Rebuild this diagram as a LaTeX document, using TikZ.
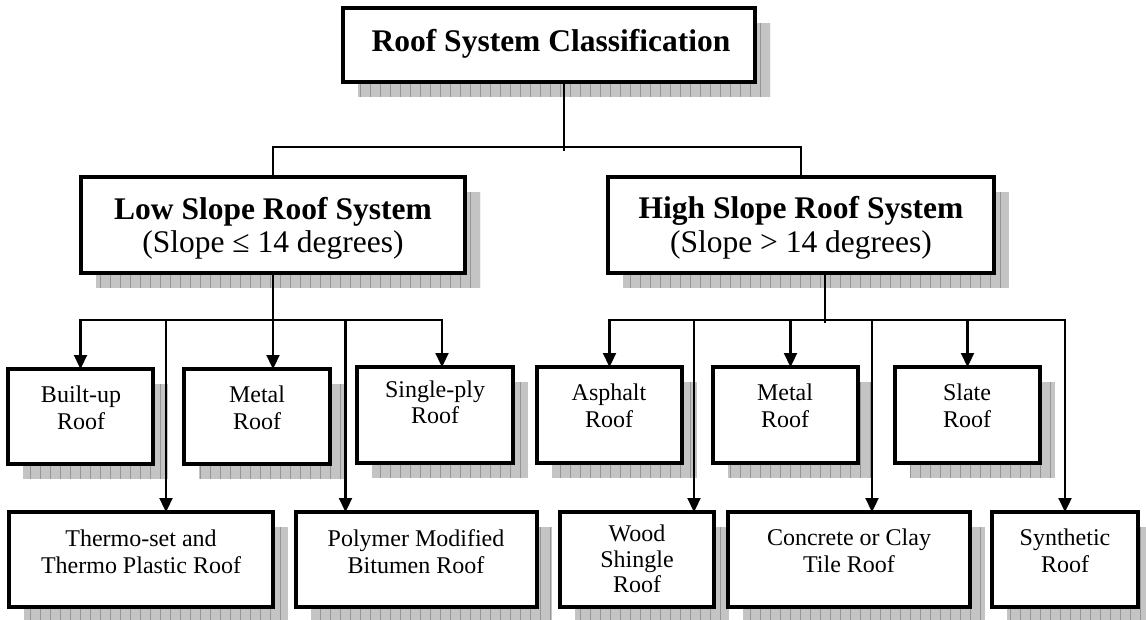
\documentclass[tikz,border=0pt]{standalone}
\usepackage{fontspec}
\setmainfont{Liberation Serif}
\usetikzlibrary{arrows.meta,backgrounds}
\definecolor{shadefill}{RGB}{196,196,196}
\definecolor{shadegrid}{RGB}{150,150,150}
\tikzset{
  rbox/.style={draw, fill=white, line width=3.3pt, inner sep=0pt, outer sep=0pt, anchor=north west},
  sh/.style={fill=shadefill, path picture={\draw[shadegrid, line width=0.7pt] (path picture bounding box.south west) grid[step=10] (path picture bounding box.north east);}},
  conn/.style={line width=2.3pt},
  arr/.style={line width=2.3pt, -{Triangle[length=14pt,width=13pt]}},
  bigb/.style={font=\fontsize{31.5}{36}\selectfont\bfseries, anchor=base, inner sep=0pt},
  bigr/.style={font=\fontsize{31.5}{36}\selectfont, anchor=base, inner sep=0pt},
  small/.style={font=\fontsize{24}{27}\selectfont, anchor=base, inner sep=0pt},
}
\begin{document}
\begin{tikzpicture}[x=1pt,y=-1pt]
\useasboundingbox (0,0) rectangle (1146,620);
% boxes
\node[rbox, line width=4.5pt, minimum width=412pt, minimum height=74pt] (top) at (343,8) {};
\node[rbox, minimum width=384pt, minimum height=96pt] (low) at (81,177) {};
\node[rbox, minimum width=386pt, minimum height=96pt] (high) at (608,177) {};
\node[rbox, minimum width=145pt, minimum height=95pt] (b1) at (8,369) {};
\node[rbox, minimum width=146pt, minimum height=95pt] (b2) at (184,369) {};
\node[rbox, minimum width=156pt, minimum height=96pt] (b3) at (357,367) {};
\node[rbox, minimum width=145pt, minimum height=96pt] (b4) at (537,367) {};
\node[rbox, minimum width=145pt, minimum height=96pt] (b5) at (713,367) {};
\node[rbox, minimum width=145pt, minimum height=96pt] (b6) at (895,367) {};
\node[rbox, minimum width=264pt, minimum height=95pt] (c1) at (9,512) {};
\node[rbox, minimum width=241pt, minimum height=95pt] (c2) at (296,512) {};
\node[rbox, minimum width=154pt, minimum height=95pt] (c3) at (560,512) {};
\node[rbox, minimum width=242pt, minimum height=95pt] (c4) at (728,512) {};
\node[rbox, minimum width=146pt, minimum height=95pt] (c5) at (992,512) {};
% shadows
\begin{scope}[on background layer]
\foreach \n in {top,low,high,b1,b2,b3,b4,b5,b6,c1,c2,c3,c4,c5}{
  \path[sh] ([shift={(15,15)}]\n.north west) rectangle ([shift={(15,15)}]\n.south east);
}
\end{scope}
% texts
\node[bigb] (ttop) at (551,52) {Roof System Classification};
\node[bigb] (tlow1) at (273,220) {Low Slope Roof System};
\node[bigr] (tlow2) at (273,253) {(Slope ≤ 14 degrees)};
\node[bigb] (thigh1) at (801,219) {High Slope Roof System};
\node[bigr] (thigh2) at (801,253) {(Slope > 14 degrees)};
\node[small] (tb1a) at (81,402) {Built-up};
\node[small] (tb1b) at (81,429) {Roof};
\node[small] (tb2a) at (257,402) {Metal};
\node[small] (tb2b) at (257,429) {Roof};
\node[small] (tb3a) at (435,397) {Single-ply};
\node[small] (tb3b) at (435,423) {Roof};
\node[small] (tb4a) at (609,400) {Asphalt};
\node[small] (tb4b) at (609,427) {Roof};
\node[small] (tb5a) at (785,400) {Metal};
\node[small] (tb5b) at (785,427) {Roof};
\node[small] (tb6a) at (967,400) {Slate};
\node[small] (tb6b) at (967,427) {Roof};
\node[small] (tc1a) at (141,546) {Thermo-set and};
\node[small] (tc1b) at (141,573) {Thermo Plastic Roof};
\node[small] (tc2a) at (416,546) {Polymer Modified};
\node[small] (tc2b) at (416,573) {Bitumen Roof};
\node[small] (tc3a) at (637,541) {Wood};
\node[small] (tc3b) at (637,567) {Shingle};
\node[small] (tc3c) at (637,592) {Roof};
\node[small] (tc4a) at (849,545) {Concrete or Clay};
\node[small] (tc4b) at (849,572) {Tile Roof};
\node[small] (tc5a) at (1065,545) {Synthetic};
\node[small] (tc5b) at (1065,572) {Roof};
% connectors
\coordinate (tj) at (564,147);
\draw[conn] (top.south -| tj) -- ([yshift=-4pt]tj);
\draw[conn] (low.north) |- (tj) -| (high.north);
\coordinate (lb) at (273,320);
\draw[conn] (low.south) -- (lb);
\draw[arr] (lb) -| (b1.north);
\draw[arr] (lb) -- ([xshift=16pt]b2.north);
\draw[arr] (lb) -| ([xshift=7pt]b3.north);
\draw[arr] (lb) -| ([xshift=25pt]c1.north);
\draw[arr] (lb) -| ([xshift=-71pt]c2.north);
\coordinate (hb) at (825,320);
\draw[conn] ([xshift=24pt]high.south) -- ([yshift=-3pt]hb);
\draw[arr] (hb) -| (b4.north);
\draw[arr] (hb) -| ([xshift=57pt]c3.north);
\draw[arr] (hb) -| ([xshift=5pt]b5.north);
\draw[arr] (hb) -| ([xshift=23pt]c4.north);
\draw[arr] (hb) -| (b6.north);
\draw[arr] (hb) -| (c5.north);
\end{tikzpicture}
\end{document}
